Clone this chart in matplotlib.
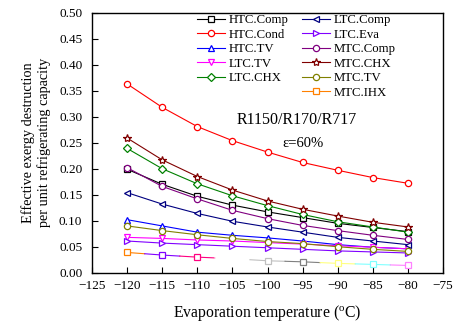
import matplotlib
matplotlib.use("Agg")
import matplotlib.pyplot as plt
from matplotlib.lines import Line2D

plt.rcParams['font.family'] = ['Liberation Serif', 'DejaVu Serif']
plt.rcParams['mathtext.fontset'] = 'stix'

x = [-120, -115, -110, -105, -100, -95, -90, -85, -80]

htc_comp = [0.199, 0.170, 0.147, 0.130, 0.117, 0.106, 0.095, 0.087, 0.079]
htc_cond = [0.363, 0.318, 0.281, 0.254, 0.232, 0.212, 0.197, 0.183, 0.172]
htc_tv = [0.102, 0.090, 0.078, 0.072, 0.067, 0.061, 0.054, 0.049, 0.046]
ltc_tv = [0.068, 0.066, 0.063, 0.061, 0.058, 0.055, 0.052, 0.049, 0.046]
ltc_chx = [0.239, 0.200, 0.171, 0.148, 0.129, 0.112, 0.098, 0.088, 0.078]
ltc_comp = [0.154, 0.132, 0.114, 0.099, 0.088, 0.078, 0.068, 0.061, 0.054]
ltc_eva = [0.061, 0.057, 0.054, 0.051, 0.048, 0.045, 0.042, 0.040, 0.038]
mtc_comp = [0.202, 0.166, 0.142, 0.120, 0.104, 0.091, 0.081, 0.072, 0.064]
mtc_chx = [0.259, 0.217, 0.185, 0.159, 0.138, 0.122, 0.109, 0.097, 0.088]
mtc_tv = [0.090, 0.081, 0.073, 0.066, 0.060, 0.056, 0.050, 0.045, 0.041]
mtc_ihx = [0.039, 0.034, 0.030, 0.027, 0.023, 0.021, 0.018, 0.016, 0.014]
ihx_colors = ['#FF8000', '#8000FF', '#FF0080', '#FFFFFF', '#C0C0C0',
              '#808080', '#FFFF80', '#80FFFF', '#FF80FF']

series = [
    ('HTC.Comp', htc_comp, '#000000', 's'),
    ('HTC.Cond', htc_cond, '#FF0000', 'o'),
    ('HTC.TV', htc_tv, '#0000FF', '^'),
    ('LTC.TV', ltc_tv, '#FF00FF', 'v'),
    ('LTC.CHX', ltc_chx, '#008000', 'D'),
    ('LTC.Comp', ltc_comp, '#000080', '<'),
    ('LTC.Eva', ltc_eva, '#8000FF', '>'),
    ('MTC.Comp', mtc_comp, '#800080', 'o'),
    ('MTC.CHX', mtc_chx, '#800000', '*'),
    ('MTC.TV', mtc_tv, '#808000', 'o'),
]

fig = plt.figure(figsize=(4.56, 3.22), dpi=100)
ax = fig.add_axes([0.2018, 0.153, 0.9715 - 0.2018, 0.9606 - 0.153])

LW = 0.8
handles = {}
for name, ys, c, m in series:
    ms = 4.5
    if m == 'D':
        ms = 4.0
    if m == 's':
        ms = 4.0
    if m == '*':
        ms = 6.0
    ln, = ax.plot(x, ys, color=c, lw=LW, marker=m, ms=ms, mfc='white',
                  mec=c, mew=0.9, label=name)
    handles[name] = ln

# MTC.IHX: colour-by-point line, each segment split at its midpoint
for i in range(len(x) - 1):
    xm = (x[i] + x[i + 1]) / 2
    ym = (mtc_ihx[i] + mtc_ihx[i + 1]) / 2
    ax.plot([x[i], xm], [mtc_ihx[i], ym], color=ihx_colors[i], lw=LW)
    ax.plot([xm, x[i + 1]], [ym, mtc_ihx[i + 1]], color=ihx_colors[i + 1], lw=LW)
for xi, yi, c in zip(x, mtc_ihx, ihx_colors):
    ax.plot([xi], [yi], marker='s', ms=4.0, mfc='white', mec=c, mew=0.9)
handles['MTC.IHX'] = Line2D([], [], color='#FF8000', lw=LW, marker='s', ms=4.0,
                            mfc='white', mec='#FF8000', mew=0.9)

ax.set_xlim(-125, -75)
ax.set_ylim(0, 0.5)
ax.set_xticks(range(-125, -74, 5))
ax.set_yticks([i * 0.05 for i in range(11)])
ax.set_yticklabels([f'{i * 0.05:.2f}' for i in range(11)])
ax.tick_params(axis='both', direction='in', length=4, width=0.8, labelsize=9.5,
               top=False, right=False)
ax.tick_params(axis='y', pad=7)
ax.tick_params(axis='x', pad=5)
for sp in ax.spines.values():
    sp.set_linewidth(1.0)

ax.set_xlabel('Evaporation temperature ($\\mathregular{^{o}}$C)', fontsize=11.3, labelpad=8)
ax.set_ylabel('Effective exergy destruction\nper unit refrigerating capacity',
              fontsize=10.3, labelpad=6)

blank = Line2D([], [], color='none')
order = ['HTC.Comp', 'HTC.Cond', 'HTC.TV', 'LTC.TV', 'LTC.CHX', None,
         'LTC.Comp', 'LTC.Eva', 'MTC.Comp', 'MTC.CHX', 'MTC.TV', 'MTC.IHX']
hl = [handles[k] if k else blank for k in order]
ll = [k if k else '' for k in order]
ax.legend(hl, ll, ncol=2, loc='upper left', bbox_to_anchor=(0.299, 0.995),
          frameon=False, fontsize=9.2, handlelength=2.2, handletextpad=0.3,
          columnspacing=1.0, labelspacing=0.2, borderaxespad=0.0, borderpad=0.0)

ax.text(-95.8, 0.294, 'R1150/R170/R717', fontsize=11.5, ha='center', va='center')
ax.text(-94.9, 0.249, 'ε=60%', fontsize=10.5, ha='center', va='center')

fig.savefig('out.png', dpi=100)
